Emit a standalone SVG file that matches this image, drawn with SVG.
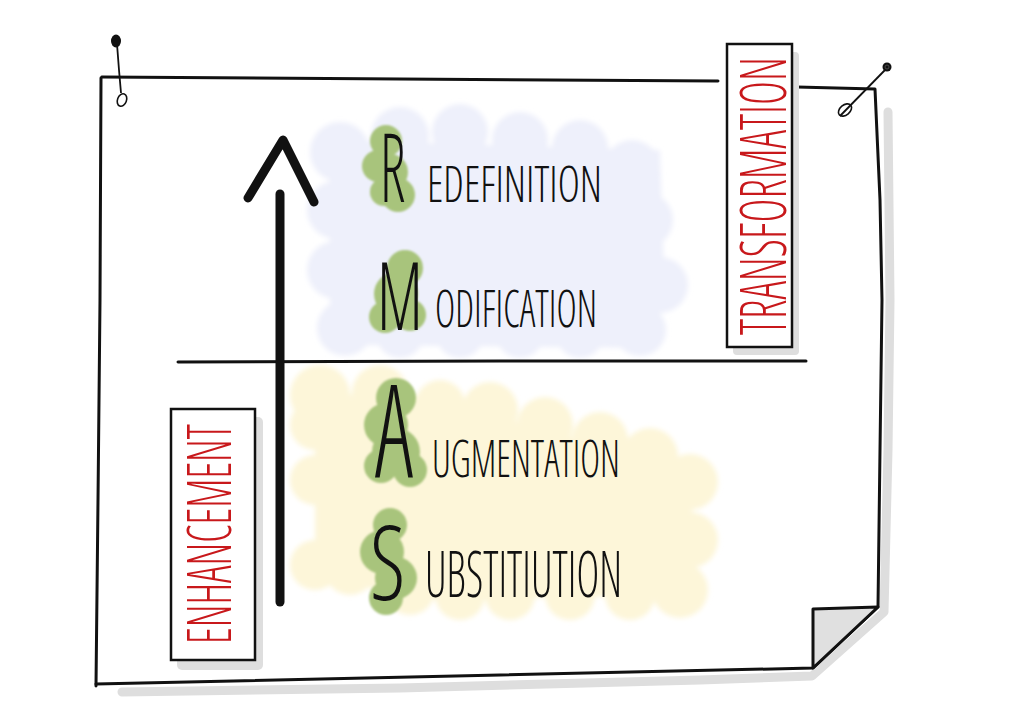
<svg xmlns="http://www.w3.org/2000/svg" width="1024" height="724" viewBox="0 0 1024 724">
<defs>
<style>
.ink{fill:none;stroke:#111;stroke-width:3;stroke-linecap:round;stroke-linejoin:round}
.shadow{fill:none;stroke:#dedede;stroke-width:9;stroke-linecap:round;stroke-linejoin:round}
.word{font-family:"Open Sans","Inter","DejaVu Sans Condensed",sans-serif;font-weight:300;font-stretch:75%;fill:#111}
.big{font-family:"Open Sans","Inter","DejaVu Sans Condensed",sans-serif;font-weight:300;font-stretch:75%;fill:#111}
.red{font-family:"Open Sans","Inter","DejaVu Sans Condensed",sans-serif;font-weight:300;font-stretch:75%;fill:#c8181b}
.box{fill:#fff;stroke:#111;stroke-width:2.5}
.boxshadow{fill:#dedede}
.blue{fill:#eef0fb}
.yellow{fill:#fdf6d9}
.green{fill:#a8c47c}
</style>
<filter id="soft" x="-10%" y="-10%" width="120%" height="120%"><feGaussianBlur stdDeviation="2.5"/></filter>
<filter id="softg" x="-20%" y="-20%" width="140%" height="140%"><feGaussianBlur stdDeviation="1.2"/></filter>
</defs>
<rect width="1024" height="724" fill="#fff"/>

<g id="paper">
<path class="shadow" d="M122,692 L400,688 L700,680 L812,676 L884,612 L888,450 L890,300 L888,112"/>
<path d="M102,77 L718,81 L875,89 L880,200 L882,300 L880,450 L878,607 L813,668 L96,684 Z" fill="#fff"/>
<path class="ink" d="M101,78 L100,300 L98,500 L96,686"/>
<path class="ink" d="M102,77 L400,79 L718,81"/>
<path class="ink" d="M797,87 L875,89 L880,200 L882,300 L880,450 L878,607 L813,668 L500,675 L96,684"/>
<path d="M813,609 L878,607 L813,668 Z" fill="#e0e0e0" stroke="#111" stroke-width="3" stroke-linejoin="round"/>
</g>

<g id="pins">
<ellipse cx="116" cy="41" rx="5" ry="6.5" fill="#111"/>
<path d="M117,44 L119,70 L121,93" fill="none" stroke="#111" stroke-width="1.8"/>
<ellipse cx="122" cy="100" rx="4.5" ry="6.5" transform="rotate(20 122 100)" fill="none" stroke="#111" stroke-width="1.6"/>
<circle cx="887" cy="67" r="4.5" fill="#111"/>
<circle cx="887" cy="67" r="2" fill="none" stroke="#555" stroke-width="0.8"/>
<path d="M840,116 L885,70" fill="none" stroke="#111" stroke-width="1.8"/>
<ellipse cx="845" cy="110" rx="7.5" ry="5" transform="rotate(-40 845 110)" fill="none" stroke="#111" stroke-width="1.6"/>
</g>

<g id="cloud-transformation" filter="url(#soft)">
<path class="blue" d="M330,140 L660,150 L665,300 L640,348 L330,345 Z"/>
<circle class="blue" cx="340" cy="152" r="30"/>
<circle class="blue" cx="400" cy="136" r="29"/>
<circle class="blue" cx="460" cy="132" r="28"/>
<circle class="blue" cx="520" cy="140" r="28"/>
<circle class="blue" cx="580" cy="148" r="28"/>
<circle class="blue" cx="632" cy="168" r="28"/>
<circle class="blue" cx="645" cy="220" r="28"/>
<circle class="blue" cx="660" cy="285" r="28"/>
<circle class="blue" cx="640" cy="330" r="26"/>
<circle class="blue" cx="580" cy="334" r="24"/>
<circle class="blue" cx="520" cy="334" r="24"/>
<circle class="blue" cx="460" cy="334" r="24"/>
<circle class="blue" cx="400" cy="334" r="24"/>
<circle class="blue" cx="345" cy="328" r="28"/>
<circle class="blue" cx="336" cy="270" r="29"/>
<circle class="blue" cx="336" cy="210" r="29"/>
</g>

<g id="cloud-enhancement" filter="url(#soft)">
<path class="yellow" d="M315,395 L420,395 L690,470 L695,595 L420,600 L315,575 Z"/>
<circle class="yellow" cx="320" cy="395" r="30"/>
<circle class="yellow" cx="380" cy="393" r="28"/>
<circle class="yellow" cx="440" cy="405" r="25"/>
<circle class="yellow" cx="490" cy="410" r="28"/>
<circle class="yellow" cx="545" cy="425" r="28"/>
<circle class="yellow" cx="600" cy="440" r="28"/>
<circle class="yellow" cx="650" cy="456" r="28"/>
<circle class="yellow" cx="690" cy="482" r="28"/>
<circle class="yellow" cx="690" cy="540" r="28"/>
<circle class="yellow" cx="680" cy="590" r="28"/>
<circle class="yellow" cx="630" cy="595" r="25"/>
<circle class="yellow" cx="570" cy="595" r="25"/>
<circle class="yellow" cx="510" cy="595" r="25"/>
<circle class="yellow" cx="460" cy="595" r="25"/>
<circle class="yellow" cx="410" cy="590" r="25"/>
<circle class="yellow" cx="350" cy="570" r="25"/>
<circle class="yellow" cx="315" cy="565" r="25"/>
<circle class="yellow" cx="315" cy="480" r="25"/>
<circle class="yellow" cx="315" cy="425" r="25"/>
</g>

<g id="redefinition">
<g filter="url(#softg)">
<circle class="green" cx="386" cy="141" r="16"/>
<circle class="green" cx="378" cy="166" r="16"/>
<circle class="green" cx="390" cy="172" r="18"/>
<circle class="green" cx="398" cy="195" r="17"/>
<circle class="green" cx="384" cy="192" r="14"/>
</g>
<text class="big" transform="translate(380 202) scale(0.62 1)" font-size="96">R</text>
<text class="word" x="427" y="202" font-size="50" textLength="175" lengthAdjust="spacingAndGlyphs">EDEFINITION</text>
</g>

<g id="modification">
<g filter="url(#softg)">
<circle class="green" cx="405" cy="268" r="18"/>
<circle class="green" cx="396" cy="294" r="22"/>
<circle class="green" cx="385" cy="317" r="16"/>
<circle class="green" cx="410" cy="315" r="16"/>
</g>
<text class="big" transform="translate(377 330) scale(0.72 1)" font-size="94">M</text>
<text class="word" x="435" y="327" font-size="51" textLength="162" lengthAdjust="spacingAndGlyphs">ODIFICATION</text>
</g>

<g id="augmentation">
<g filter="url(#softg)">
<circle class="green" cx="396" cy="398" r="20"/>
<circle class="green" cx="386" cy="425" r="22"/>
<circle class="green" cx="396" cy="452" r="24"/>
<circle class="green" cx="410" cy="470" r="17"/>
<circle class="green" cx="381" cy="466" r="17"/>
</g>
<text class="big" transform="translate(375 478) scale(0.72 1)" font-size="130">A</text>
<text class="word" x="432" y="477" font-size="52" textLength="188" lengthAdjust="spacingAndGlyphs">UGMENTATION</text>
</g>

<g id="substitution">
<g filter="url(#softg)">
<circle class="green" cx="390" cy="525" r="17"/>
<circle class="green" cx="382" cy="552" r="22"/>
<circle class="green" cx="396" cy="578" r="21"/>
<circle class="green" cx="386" cy="598" r="17"/>
</g>
<text class="big" transform="translate(370 600) scale(0.85 1)" font-size="104">S</text>
<text class="word" x="425" y="597" font-size="65" textLength="197" lengthAdjust="spacingAndGlyphs">UBSTITIUTION</text>
</g>

<g id="divider">
<path class="ink" d="M178,362 L500,361 L806,361" stroke-width="2.5"/>
</g>

<g id="transformation-label">
<rect class="boxshadow" x="733" y="52" width="66" height="303" rx="4"/>
<rect class="box" x="727" y="44" width="65" height="303"/>
<text class="red" transform="translate(786 196) rotate(-90)" x="0" y="0" font-size="64" text-anchor="middle" textLength="278" lengthAdjust="spacingAndGlyphs">TRANSFORMATION</text>
</g>

<g id="enhancement-label">
<rect class="boxshadow" x="177" y="417" width="86" height="253" rx="5"/>
<rect class="box" x="171" y="409" width="84" height="251"/>
<text class="red" transform="translate(231 534) rotate(-90)" x="0" y="0" font-size="60" text-anchor="middle" textLength="220" lengthAdjust="spacingAndGlyphs">ENHANCEMENT</text>
</g>

<g id="connectors">
<path d="M280,194 L280,602" fill="none" stroke="#111" stroke-width="9" stroke-linecap="round"/>
<path d="M248,198 L283,140 L314,202" fill="none" stroke="#111" stroke-width="9" stroke-linecap="round" stroke-linejoin="round"/>
</g>
</svg>
